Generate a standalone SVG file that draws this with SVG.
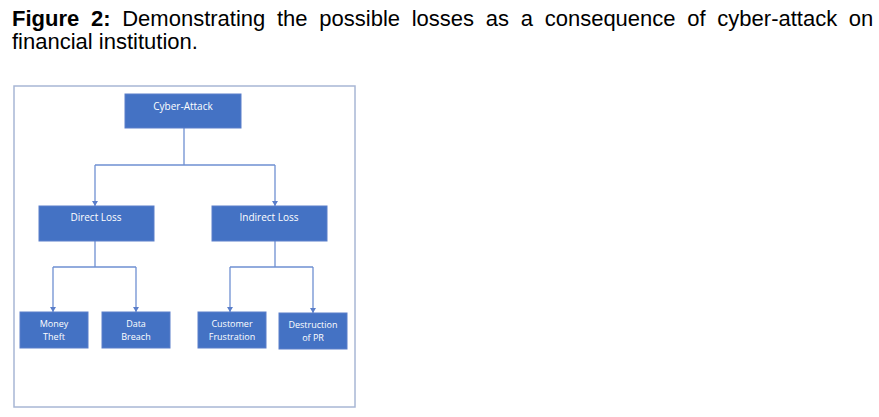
<svg xmlns="http://www.w3.org/2000/svg" width="879" height="417" viewBox="0 0 879 417">
<style>
.cap{font-family:"Liberation Sans",Arial,sans-serif;font-size:22px;fill:#000}
.box{fill:#4472C4;stroke:#5A7ECA;stroke-width:1}
.t1{font-family:"Open Sans","Liberation Sans",sans-serif;fill:#fff;text-anchor:middle;font-size:10px;font-weight:500}
.t2{font-family:"Open Sans","Liberation Sans",sans-serif;fill:#fff;text-anchor:middle;font-size:9px;font-weight:500}
.con{fill:none;stroke:#6F90D2;stroke-width:1.3}
</style>
<defs>
<marker id="ah" markerWidth="5" markerHeight="6" refX="5" refY="3" orient="auto" markerUnits="userSpaceOnUse" viewBox="0 0 5 6">
<path d="M0,0 L5,3 L0,6 Z" fill="#5A7ECA"/>
</marker>
</defs>
<rect width="879" height="417" fill="#fff"/>
<text class="cap" x="12" y="26" word-spacing="5.6"><tspan font-weight="bold">Figure 2:</tspan> Demonstrating the possible losses as a consequence of cyber-attack on</text>
<text class="cap" x="12" y="49">financial institution.</text>
<rect x="14" y="86" width="341" height="321" fill="#fff" stroke="#A8B7D5" stroke-width="1.5"/>
<g id="connectors">
<path class="con" d="M184,128 V165 M95,165 H275"/>
<path class="con" d="M95,165 V206" marker-end="url(#ah)"/>
<path class="con" d="M275,165 V206" marker-end="url(#ah)"/>
<path class="con" d="M95,241 V267 M53,267 H136"/>
<path class="con" d="M53,267 V312" marker-end="url(#ah)"/>
<path class="con" d="M136,267 V312" marker-end="url(#ah)"/>
<path class="con" d="M275,241 V267 M230,267 H313"/>
<path class="con" d="M230,267 V312" marker-end="url(#ah)"/>
<path class="con" d="M313,267 V313" marker-end="url(#ah)"/>
</g>
<g id="cyber-attack"><rect class="box" x="125" y="94" width="116" height="34"/><text class="t1" x="183" y="110">Cyber-Attack</text></g>
<g id="direct-loss"><rect class="box" x="39" y="206" width="115" height="35"/><text class="t1" x="96" y="221">Direct Loss</text></g>
<g id="indirect-loss"><rect class="box" x="212" y="206" width="115" height="35"/><text class="t1" x="269" y="221">Indirect Loss</text></g>
<g id="money-theft"><rect class="box" x="20" y="312" width="68" height="36"/><text class="t2" x="54" y="327">Money</text><text class="t2" x="54" y="340">Theft</text></g>
<g id="data-breach"><rect class="box" x="102" y="312" width="68" height="36"/><text class="t2" x="136" y="327">Data</text><text class="t2" x="136" y="340">Breach</text></g>
<g id="customer-frustration"><rect class="box" x="198" y="312" width="68" height="36"/><text class="t2" x="232" y="327">Customer</text><text class="t2" x="232" y="340">Frustration</text></g>
<g id="destruction-of-pr"><rect class="box" x="279" y="313" width="68" height="36"/><text class="t2" x="313" y="328">Destruction</text><text class="t2" x="313" y="341">of PR</text></g>
</svg>
